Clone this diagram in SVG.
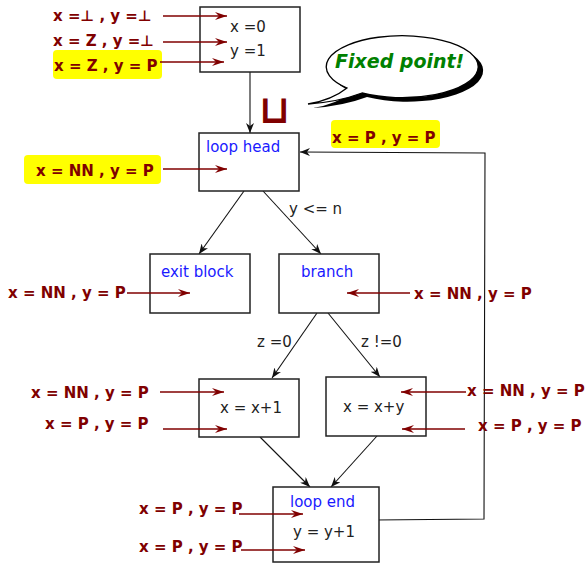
<svg xmlns="http://www.w3.org/2000/svg" width="588" height="563" viewBox="0 0 588 563">
<style>
.box{fill:#fff;stroke:#222;stroke-width:1.5}
.t{font-family:"DejaVu Sans",sans-serif;font-size:15px;fill:#222}
.b{font-family:"DejaVu Sans",sans-serif;font-size:15px;fill:#1a1aff}
.r{font-family:"DejaVu Sans",sans-serif;font-size:15px;font-weight:bold;fill:#800000}
.hl{fill:#ffff00}
.ra{stroke:#800000;stroke-width:1.6;fill:none;marker-end:url(#rh)}
.ba{stroke:#111;stroke-width:1.1;fill:none;marker-end:url(#bh)}
</style>
<defs>
<marker id="rh" viewBox="0 0 12 8" refX="12" refY="4" markerWidth="13" markerHeight="8" markerUnits="userSpaceOnUse" orient="auto">
<path d="M0,0 L12,4 L0,8 L4,4 Z" fill="#800000"/>
</marker>
<marker id="bh" viewBox="0 0 10 8" refX="10" refY="4" markerWidth="10" markerHeight="8" markerUnits="userSpaceOnUse" orient="auto">
<path d="M0,0 L10,4 L0,8 L3,4 Z" fill="#111"/>
</marker>
</defs>
<rect width="588" height="563" fill="#fff"/>

<g id="connectors">
<line class="ba" x1="250" y1="72" x2="250" y2="133"/>
<line class="ba" x1="244" y1="191" x2="199" y2="254"/>
<line class="ba" x1="263" y1="191" x2="321" y2="254"/>
<line class="ba" x1="317" y1="313" x2="272" y2="378"/>
<line class="ba" x1="328" y1="313" x2="380" y2="377"/>
<line class="ba" x1="260" y1="437" x2="310" y2="487"/>
<line class="ba" x1="377" y1="436" x2="331" y2="487"/>
<polyline class="ba" points="375,520 484,519 485,153 300,152"/>
<text class="t" x="289" y="214">y &lt;= n</text>
<text class="t" x="257" y="347">z =0</text>
<text class="t" x="361" y="347">z !=0</text>
</g>

<g id="start">
<rect class="box" x="200" y="7" width="100" height="65"/>
<text class="t" x="230" y="32">x =0</text>
<text class="t" x="230" y="56">y =1</text>
</g>

<g id="loop-head">
<rect class="box" x="199" y="133" width="100" height="58"/>
<text class="b" x="206" y="152">loop head</text>
</g>

<g id="exit-block">
<rect class="box" x="150" y="254" width="100" height="59"/>
<text class="b" x="161" y="277">exit block</text>
</g>

<g id="branch">
<rect class="box" x="279" y="254" width="100" height="59"/>
<text class="b" x="301" y="277">branch</text>
</g>

<g id="inc-x">
<rect class="box" x="199" y="379" width="100" height="58"/>
<text class="t" x="220" y="413">x = x+1</text>
</g>

<g id="add-y">
<rect class="box" x="326" y="377" width="100" height="59"/>
<text class="t" x="343" y="412">x = x+y</text>
</g>

<g id="loop-end">
<rect class="box" x="273" y="487" width="106" height="75"/>
<text class="b" x="290" y="507">loop end</text>
<text class="t" x="293" y="537">y = y+1</text>
</g>

<g id="join">
<text x="259" y="123" style="font-family:'DejaVu Sans',sans-serif;font-size:39px;font-weight:bold;fill:#800000">⊔</text>
</g>

<g id="bubble">
<path d="M347,88 Q332,100 308,104 Q338,102 362,93 A76 31 0 1 0 347,88 Z" fill="#000" transform="translate(5,4)"/>
<path d="M347,88 Q332,100 308,104 Q338,102 362,93 A76 31 0 1 0 347,88 Z" fill="#fff" stroke="#000" stroke-width="1.3"/>
<text x="335" y="68" style="font-family:'DejaVu Sans',sans-serif;font-size:19px;font-weight:bold;font-style:italic;fill:#008000">Fixed point!</text>
</g>

<g id="facts">
<text class="r" x="53" y="21">x =⊥ , y =⊥</text>
<line class="ra" x1="163" y1="16" x2="227" y2="16"/>
<text class="r" x="53" y="46">x = Z , y =⊥</text>
<line class="ra" x1="163" y1="42" x2="227" y2="42"/>
<rect class="hl" x="53" y="50" width="109" height="29" rx="4"/>
<text class="r" x="54" y="71">x = Z , y = P</text>
<line class="ra" x1="160" y1="62" x2="224" y2="62"/>

<rect class="hl" x="331" y="120" width="109" height="28" rx="4"/>
<text class="r" x="332" y="143">x = P , y = P</text>

<rect class="hl" x="24" y="155" width="137" height="29" rx="4"/>
<text class="r" x="36" y="176">x = NN , y = P</text>
<line class="ra" x1="163" y1="169" x2="227" y2="169"/>

<text class="r" x="8" y="298">x = NN , y = P</text>
<line class="ra" x1="127" y1="293" x2="190" y2="293"/>

<line class="ra" x1="410" y1="293" x2="347" y2="293"/>
<text class="r" x="414" y="299">x = NN , y = P</text>

<text class="r" x="31" y="398">x = NN , y = P</text>
<line class="ra" x1="160" y1="392" x2="224" y2="392"/>
<text class="r" x="45" y="429">x = P , y = P</text>
<line class="ra" x1="163" y1="429" x2="227" y2="429"/>

<line class="ra" x1="466" y1="392" x2="401" y2="392"/>
<text class="r" x="467" y="396">x = NN , y = P</text>
<line class="ra" x1="465" y1="429" x2="402" y2="429"/>
<text class="r" x="478" y="431">x = P , y = P</text>

<text class="r" x="139" y="514">x = P , y = P</text>
<line class="ra" x1="239" y1="514" x2="303" y2="514"/>
<text class="r" x="139" y="552">x = P , y = P</text>
<line class="ra" x1="241" y1="550" x2="305" y2="550"/>
</g>
</svg>
